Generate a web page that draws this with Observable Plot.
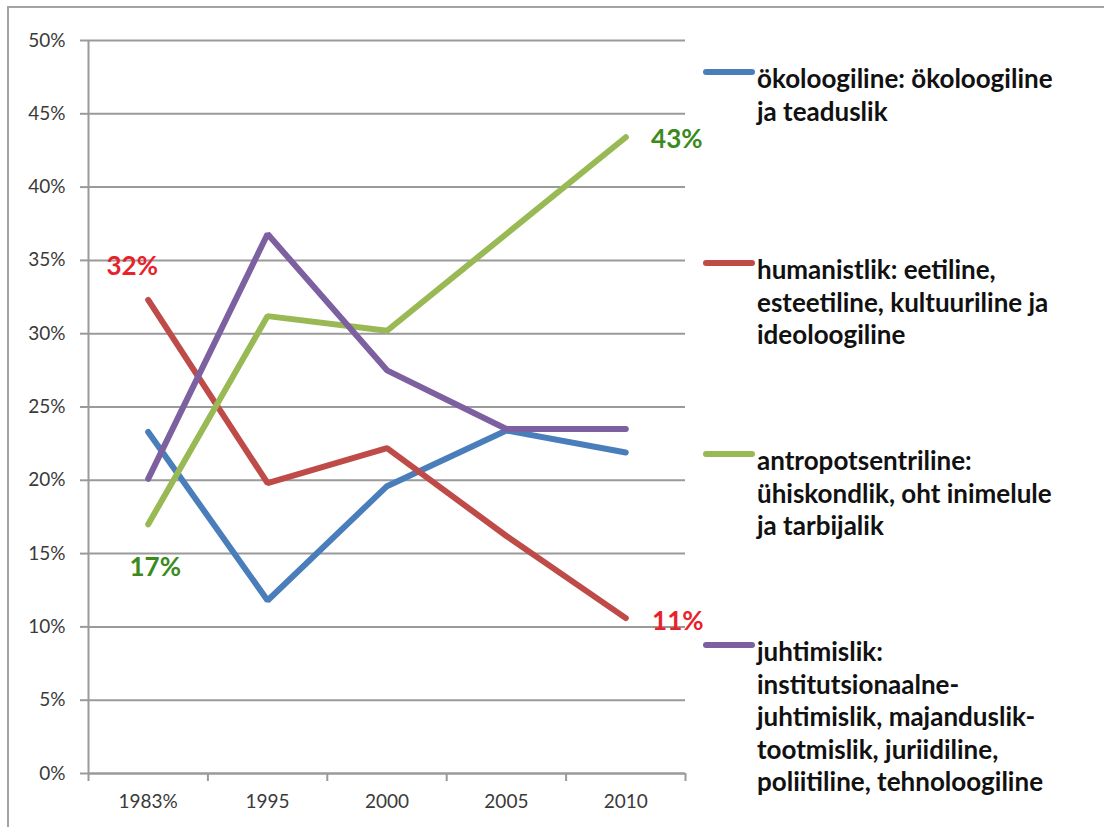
<!DOCTYPE html>
<html>
<head>
<meta charset="utf-8">
<script src="https://cdn.jsdelivr.net/npm/d3@7"></script>
<script src="https://cdn.jsdelivr.net/npm/@observablehq/plot@0.6"></script>
<style>
  html, body { margin: 0; padding: 0; background: #fff; }
  #wrap { position: relative; width: 1104px; height: 827px; overflow: hidden; font-family: Lato, "DejaVu Sans", sans-serif; }
  #border { position: absolute; left: 7px; top: 6px; width: 1200px; height: 900px; border-left: 2px solid #a3a3a3; border-top: 2px solid #a3a3a3; pointer-events: none; }
  #chart { position: absolute; left: 0; top: 0; }
  #legend { position: absolute; left: 703px; top: 0; }
  .item { position: absolute; left: 0; width: 400px; }
  .sw { position: absolute; left: 0; width: 52px; height: 6px; border-radius: 3px; }
  .txt { position: absolute; left: 54px; font-weight: 700; font-size: 26px; line-height: 32.5px; color: #111; white-space: nowrap; }
</style>
</head>
<body>
<div id="wrap">
  <div id="chart"></div>
  <div id="legend"></div>
  <div id="border"></div>
</div>
<script>
// ---- data ----
const categories = ["1983%", "1995", "2000", "2005", "2010"];
const seriesNames = ["ökoloogiline", "humanistlik", "antropotsentriline", "juhtimislik"];
const okoloogiline = [0.233, 0.118, 0.196, 0.234, 0.219];
const humanistlik = [0.323, 0.198, 0.222, 0.162, 0.106];
const antropotsentriline = [0.170, 0.312, 0.302, 0.368, 0.434];
const juhtimislik = [0.201, 0.368, 0.275, 0.235, 0.235];
const seriesColors = ["#4a7ebb", "#be4b48", "#98b954", "#7d60a0"];
const legendLines = [
  ["ökoloogiline: ökoloogiline", "ja teaduslik"],
  ["humanistlik: eetiline,", "esteetiline, kultuuriline ja", "ideoloogiline"],
  ["antropotsentriline:", "ühiskondlik, oht inimelule", "ja tarbijalik"],
  ["juhtimislik:", "institutsionaalne-", "juhtimislik, majanduslik-", "tootmislik, juriidiline,", "poliitiline, tehnoloogiline"]
];
const yTicks = [0, 0.05, 0.1, 0.15, 0.2, 0.25, 0.3, 0.35, 0.4, 0.45, 0.5];
// value labels: series, category index, text, colour
const labelSeries = ["humanistlik", "antropotsentriline", "antropotsentriline", "humanistlik"];
const labelIndex = [0, 0, 4, 4];
const labelText = ["32%", "17%", "43%", "11%"];
const labelColors = ["#e8222b", "#3b8a1c", "#3b8a1c", "#e8222b"];
const labelDx = [-16, 7, 51, 52];
const labelDy = [-33, 43, 2, 4];

// ---- build table ----
const valuesBySeries = [okoloogiline, humanistlik, antropotsentriline, juhtimislik];
const rows = [];
seriesNames.forEach((s, si) => valuesBySeries[si].forEach((v, i) => rows.push({series: s, i, value: v})));
const labels = labelText.map((t, k) => {
  const si = seriesNames.indexOf(labelSeries[k]);
  return {i: labelIndex[k], value: valuesBySeries[si][labelIndex[k]], text: t, color: labelColors[k], dx: labelDx[k], dy: labelDy[k]};
});
const boundaries = d3.range(categories.length + 1).map(k => k - 0.5);
const gray = "#9a9a9a";

const chart = Plot.plot({
  width: 1104,
  height: 827,
  marginLeft: 88,
  marginRight: 419,
  marginTop: 40,
  marginBottom: 54,
  style: {fontFamily: "Lato, 'DejaVu Sans', sans-serif", color: "#3a3a3a", background: "transparent"},
  x: {type: "linear", domain: [-0.5, categories.length - 0.5]},
  y: {domain: [0, 0.5]},
  color: {domain: seriesNames, range: seriesColors},
  marks: [
    Plot.gridY(yTicks, {stroke: gray, strokeOpacity: 1, strokeWidth: 2}),
    Plot.axisY(yTicks, {tickFormat: ".0%", tickSize: 8, tickPadding: 15, fontSize: 19, stroke: gray, strokeWidth: 2, label: null}),
    Plot.ruleX([-0.5], {stroke: gray, strokeWidth: 2}),
    Plot.ruleY([0], {stroke: gray, strokeWidth: 2}),
    Plot.axisX(boundaries, {tickSize: 8, tickFormat: () => "", stroke: gray, strokeWidth: 2, label: null}),
    Plot.axisX(d3.range(categories.length), {tickSize: 0, tickPadding: 21, tickFormat: i => categories[i], fontSize: 19, label: null}),
    ...seriesNames.map(s => Plot.line(rows.filter(r => r.series === s), {x: "i", y: "value", stroke: "series", strokeWidth: 6, strokeLinecap: "round", strokeLinejoin: "miter"})),
    ...labels.map(l => Plot.text([l], {x: "i", y: "value", text: "text", fill: l.color, dx: l.dx, dy: l.dy, fontSize: 26, fontWeight: "bold"}))
  ]
});
document.getElementById("chart").appendChild(chart);

// ---- legend ----
const legend = document.getElementById("legend");
seriesNames.forEach((s, k) => {
  const item = document.createElement("div");
  item.className = "item";
  const center = 72 + k * 191;
  item.style.top = center + "px";
  const sw = document.createElement("div");
  sw.className = "sw";
  sw.style.top = "-3px";
  sw.style.background = seriesColors[k];
  const txt = document.createElement("div");
  txt.className = "txt";
  txt.style.top = "-10px";
  txt.innerHTML = legendLines[k].map(t => t.replace(/&/g, "&amp;")).join("<br>");
  item.appendChild(sw);
  item.appendChild(txt);
  legend.appendChild(item);
});
</script>
</body>
</html>
